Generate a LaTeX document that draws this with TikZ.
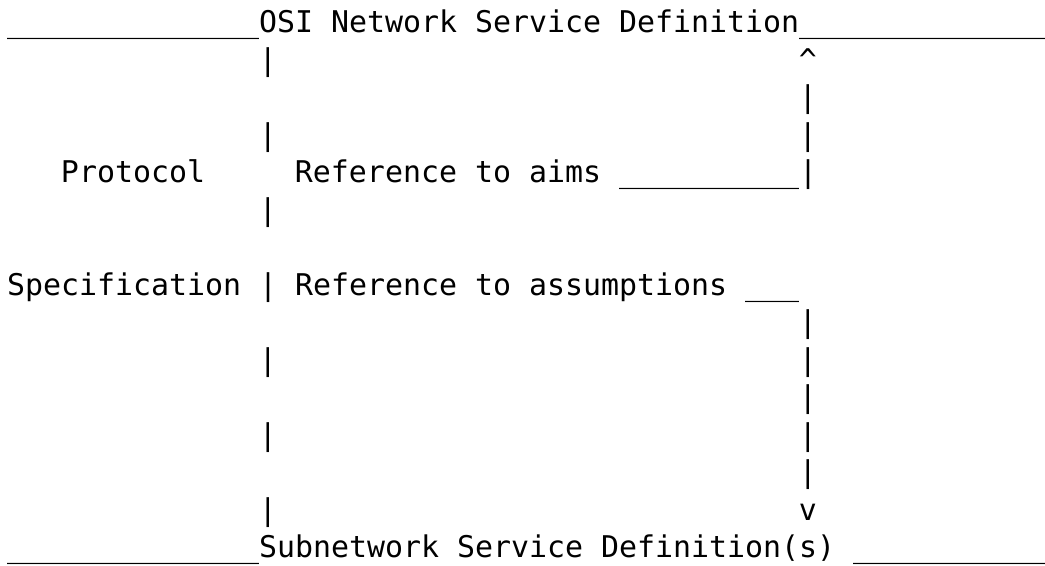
\documentclass[tikz,border=0pt]{standalone}
\usepackage{fontspec}
\newfontfamily\asciifont{DejaVu Sans Mono}
\newcommand\unders[1]{\foreach\k in {1,...,#1}{\_}}

\tikzset{
  txt/.style={anchor=base west, inner sep=0pt, outer sep=0pt,
    font=\asciifont\fontsize{22.43pt}{28pt}\selectfont},
}

\begin{document}
\begin{tikzpicture}[x=13.5pt,y=-28.125pt]
\useasboundingbox (-0.389,-0.88) rectangle (57.67,14.213);

\node[txt] (osi) at (0,0) {\unders{14}OSI Network Service Definition\unders{14}};

% left column of the protocol specification
\foreach \r in {1,3,5,9,11,13}
  \node[txt] (lbar\r) at (14,\r) {\textbar};
\node[txt] (proto) at (3,4) {Protocol};
\node[txt] (aims) at (16,4) {Reference to aims \unders{10}\textbar};
\node[txt] (spec) at (0,7) {Specification \textbar{} Reference to assumptions \unders{3}};

% right column, up and down
\node[txt] (up) at (44,1) {\textasciicircum};
\foreach \r in {2,3,8,9,10,11,12}
  \node[txt] (rbar\r) at (44,\r) {\textbar};
\node[txt] (down) at (44,13) {v};

\node[txt] (subnet) at (0,14) {\unders{14}Subnetwork Service Definition(s) \unders{11}};
\end{tikzpicture}
\end{document}
